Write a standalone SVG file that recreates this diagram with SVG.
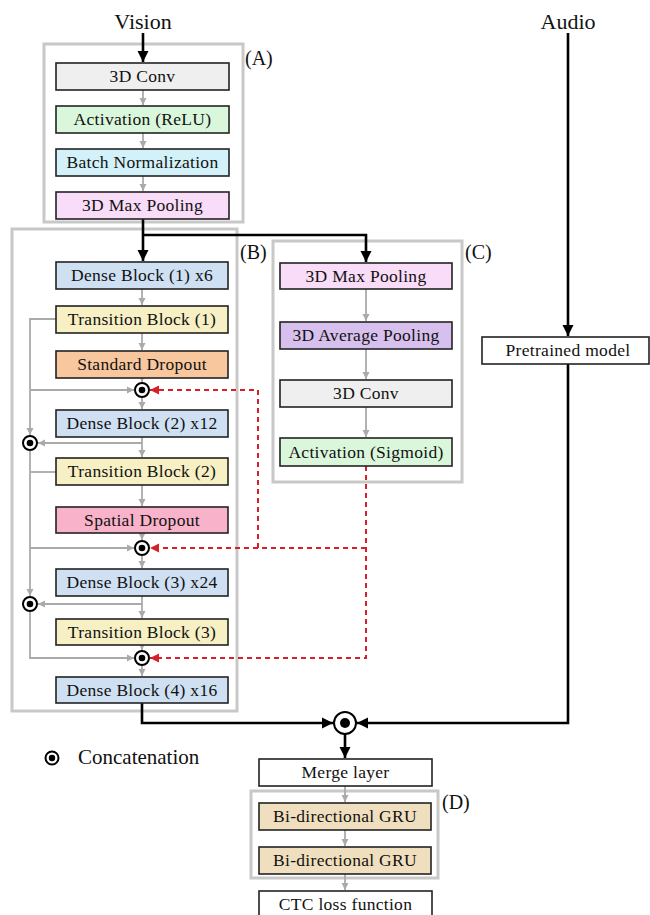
<svg xmlns="http://www.w3.org/2000/svg" width="650" height="915" viewBox="0 0 650 915">
<style>
text{font-family:"Liberation Serif","Times New Roman",serif;fill:#111}
.t{font-size:17.5px;letter-spacing:0.3px;text-anchor:middle}
.big{font-size:22px;text-anchor:middle}
.lab{font-size:20px}
.box{stroke:#222;stroke-width:1.6}
.frame{fill:none;stroke:#c8c8c8;stroke-width:3}
.g{fill:none;stroke:#aaa;stroke-width:1.8}
.k{fill:none;stroke:#000;stroke-width:2.6}
.r{fill:none;stroke:#d61f26;stroke-width:2;stroke-dasharray:5,4}
.cc{fill:#fff;stroke:#000;stroke-width:2}
</style>
<defs>
<marker id="ag" markerWidth="8" markerHeight="8" refX="7" refY="4" orient="auto" markerUnits="userSpaceOnUse"><path d="M0,0.5 L7,4 L0,7.5 z" fill="#aaa"/></marker>
<marker id="ak" markerWidth="12" markerHeight="12" refX="11" refY="6" orient="auto" markerUnits="userSpaceOnUse"><path d="M0,0.5 L11,6 L0,11.5 z" fill="#000"/></marker>
<marker id="ar" markerWidth="10" markerHeight="10" refX="9" refY="5" orient="auto" markerUnits="userSpaceOnUse"><path d="M0,0.5 L9,5 L0,9.5 z" fill="#d61f26"/></marker>
</defs>
<rect width="650" height="915" fill="#fff"/>

<g id="frames">
<rect class="frame" x="44" y="44" width="199" height="178"/>
<rect class="frame" x="12" y="229" width="225" height="482"/>
<rect class="frame" x="273" y="241" width="189" height="241"/>
<rect class="frame" x="251" y="791" width="187" height="87"/>
</g>

<g id="labels">
<text class="big" x="143" y="29">Vision</text>
<text class="big" x="568" y="29">Audio</text>
<text class="lab" x="245" y="65">(A)</text>
<text class="lab" x="240" y="259">(B)</text>
<text class="lab" x="465" y="259">(C)</text>
<text class="lab" x="442" y="809">(D)</text>
</g>

<g id="connectors">
<!-- black -->
<path class="k" d="M143,33 V62" marker-end="url(#ak)"/>
<path class="k" d="M143,219 V261" marker-end="url(#ak)"/>
<path class="k" d="M143,235 H366 V262" marker-end="url(#ak)"/>
<path class="k" d="M568,33 V336" marker-end="url(#ak)"/>
<path class="k" d="M568,364 V723 H357" marker-end="url(#ak)"/>
<path class="k" d="M142,703 V723 H333" marker-end="url(#ak)"/>
<path class="k" d="M345,734 V758" marker-end="url(#ak)"/>
<!-- gray in A -->
<path class="g" d="M143,90 V105" marker-end="url(#ag)"/>
<path class="g" d="M143,133 V148" marker-end="url(#ag)"/>
<path class="g" d="M143,176 V191" marker-end="url(#ag)"/>
<!-- gray in B -->
<path class="g" d="M142,289 V305" marker-end="url(#ag)"/>
<path class="g" d="M142,333 V350" marker-end="url(#ag)"/>
<path class="g" d="M142,378 V382" marker-end="url(#ag)"/>
<path class="g" d="M142,398 V409" marker-end="url(#ag)"/>
<path class="g" d="M142,437 V457" marker-end="url(#ag)"/>
<path class="g" d="M142,443 H38" marker-end="url(#ag)"/>
<path class="g" d="M142,485 V506" marker-end="url(#ag)"/>
<path class="g" d="M142,533 V540" marker-end="url(#ag)"/>
<path class="g" d="M142,556 V568" marker-end="url(#ag)"/>
<path class="g" d="M142,596 V618" marker-end="url(#ag)"/>
<path class="g" d="M142,604 H38" marker-end="url(#ag)"/>
<path class="g" d="M142,645 V650" marker-end="url(#ag)"/>
<path class="g" d="M142,666 V676" marker-end="url(#ag)"/>
<path class="g" d="M56,319 H30 V435" marker-end="url(#ag)"/>
<path class="g" d="M30,390 H134" marker-end="url(#ag)"/>
<path class="g" d="M30,451 V596" marker-end="url(#ag)"/>
<path class="g" d="M56,472 H30"/>
<path class="g" d="M30,548 H134" marker-end="url(#ag)"/>
<path class="g" d="M30,612 V658 H134" marker-end="url(#ag)"/>
<!-- gray in C -->
<path class="g" d="M366,289 V321" marker-end="url(#ag)"/>
<path class="g" d="M366,349 V379" marker-end="url(#ag)"/>
<path class="g" d="M366,407 V437" marker-end="url(#ag)"/>
<!-- gray in D -->
<path class="g" d="M345,786 V802" marker-end="url(#ag)"/>
<path class="g" d="M345,830 V846" marker-end="url(#ag)"/>
<path class="g" d="M345,874 V890" marker-end="url(#ag)"/>
<!-- red dashed -->
<path class="r" d="M366,466 V658 H150" marker-end="url(#ar)"/>
<path class="r" d="M366,548 H150" marker-end="url(#ar)"/>
<path class="r" d="M258,548 V390 H150" marker-end="url(#ar)"/>
</g>

<g id="concat">
<g id="c1"><circle class="cc" cx="142" cy="390" r="7"/><circle cx="142" cy="390" r="3.3" fill="#000"/></g>
<g id="c2"><circle class="cc" cx="142" cy="548" r="7"/><circle cx="142" cy="548" r="3.3" fill="#000"/></g>
<g id="c3"><circle class="cc" cx="142" cy="658" r="7"/><circle cx="142" cy="658" r="3.3" fill="#000"/></g>
<g id="cl1"><circle class="cc" cx="30" cy="443" r="7"/><circle cx="30" cy="443" r="3.3" fill="#000"/></g>
<g id="cl2"><circle class="cc" cx="30" cy="604" r="7"/><circle cx="30" cy="604" r="3.3" fill="#000"/></g>
<g id="cbig"><circle class="cc" cx="345" cy="723" r="11" stroke-width="2.6"/><circle cx="345" cy="723" r="5" fill="#000"/></g>
</g>

<g id="legend">
<circle class="cc" cx="52" cy="758" r="6.5" stroke-width="2.4"/><circle cx="52" cy="758" r="3.2" fill="#000"/>
<text x="78" y="764" style="font-size:21px">Concatenation</text>
</g>

<g id="a1"><rect class="box" x="56" y="63" width="173" height="27" fill="#efefef"/><text class="t" x="142.5" y="82">3D Conv</text></g>
<g id="a2"><rect class="box" x="56" y="106" width="173" height="27" fill="#daf7dc"/><text class="t" x="142.5" y="125">Activation (ReLU)</text></g>
<g id="a3"><rect class="box" x="56" y="149" width="173" height="27" fill="#d3f1f8"/><text class="t" x="142.5" y="168">Batch Normalization</text></g>
<g id="a4"><rect class="box" x="56" y="192" width="173" height="27" fill="#f8dcf8"/><text class="t" x="142.5" y="211">3D Max Pooling</text></g>

<g id="b1"><rect class="box" x="56" y="262" width="172" height="27" fill="#cfe0f3"/><text class="t" x="142" y="281">Dense Block (1) x6</text></g>
<g id="b2"><rect class="box" x="56" y="306" width="172" height="27" fill="#f6f0c4"/><text class="t" x="142" y="325">Transition Block (1)</text></g>
<g id="b3"><rect class="box" x="56" y="351" width="172" height="27" fill="#f8c79e"/><text class="t" x="142" y="370">Standard Dropout</text></g>
<g id="b4"><rect class="box" x="56" y="410" width="172" height="27" fill="#cfe0f3"/><text class="t" x="142" y="429">Dense Block (2) x12</text></g>
<g id="b5"><rect class="box" x="56" y="458" width="172" height="27" fill="#f6f0c4"/><text class="t" x="142" y="477">Transition Block (2)</text></g>
<g id="b6"><rect class="box" x="56" y="507" width="172" height="26" fill="#f8b3cb"/><text class="t" x="142" y="526">Spatial Dropout</text></g>
<g id="b7"><rect class="box" x="56" y="569" width="172" height="27" fill="#cfe0f3"/><text class="t" x="142" y="588">Dense Block (3) x24</text></g>
<g id="b8"><rect class="box" x="56" y="619" width="172" height="26" fill="#f6f0c4"/><text class="t" x="142" y="638">Transition Block (3)</text></g>
<g id="b9"><rect class="box" x="56" y="677" width="172" height="26" fill="#cfe0f3"/><text class="t" x="142" y="696">Dense Block (4) x16</text></g>

<g id="c_1"><rect class="box" x="280" y="263" width="172" height="26" fill="#f8dcf8"/><text class="t" x="366" y="282">3D Max Pooling</text></g>
<g id="c_2"><rect class="box" x="280" y="322" width="172" height="27" fill="#d7c0ee"/><text class="t" x="366" y="341">3D Average Pooling</text></g>
<g id="c_3"><rect class="box" x="280" y="380" width="172" height="27" fill="#efefef"/><text class="t" x="366" y="399">3D Conv</text></g>
<g id="c_4"><rect class="box" x="280" y="438" width="172" height="28" fill="#daf7dc"/><text class="t" x="366" y="458">Activation (Sigmoid)</text></g>

<g id="pretrained"><rect class="box" x="482" y="337" width="167" height="27" fill="#fff"/><text class="t" x="568" y="356">Pretrained model</text></g>
<g id="merge"><rect class="box" x="259" y="759" width="173" height="27" fill="#fff"/><text class="t" x="345.5" y="778">Merge layer</text></g>
<g id="gru1"><rect class="box" x="259" y="803" width="172" height="27" fill="#f0dfbe"/><text class="t" x="345" y="822">Bi-directional GRU</text></g>
<g id="gru2"><rect class="box" x="259" y="847" width="172" height="27" fill="#f0dfbe"/><text class="t" x="345" y="866">Bi-directional GRU</text></g>
<g id="ctc"><rect class="box" x="259" y="891" width="173" height="27" fill="#fff"/><text class="t" x="345.5" y="910">CTC loss function</text></g>
</svg>
